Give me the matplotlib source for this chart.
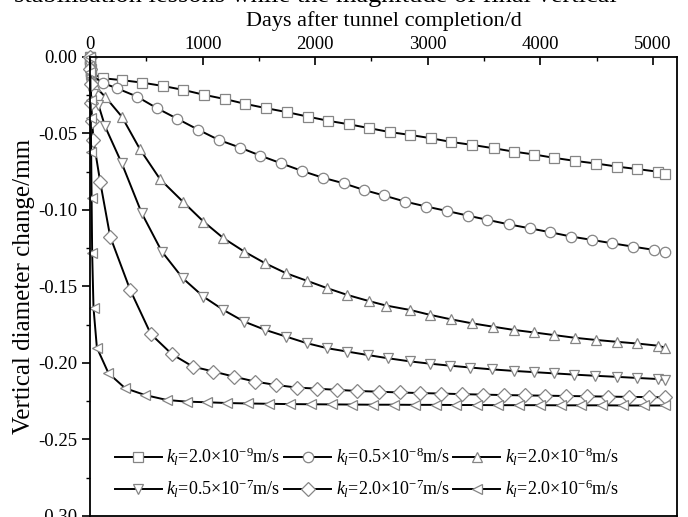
import matplotlib
matplotlib.use("Agg")
import matplotlib.pyplot as plt
from matplotlib.ticker import MultipleLocator, FormatStrFormatter

plt.rcParams['font.family'] = ['Liberation Serif', 'DejaVu Serif']
plt.rcParams['mathtext.fontset'] = 'custom'
plt.rcParams['mathtext.rm'] = 'Liberation Serif'
plt.rcParams['mathtext.it'] = 'Liberation Serif:italic'
plt.rcParams['axes.unicode_minus'] = False

# series (days after completion, diameter change in mm)
days_a = [0, 3, 6, 10, 118, 282, 459, 646, 829, 1013, 1200, 1378, 1562, 1748,
          1932, 2118, 2296, 2482, 2667, 2844, 3031, 3209, 3393, 3585, 3763,
          3947, 4124, 4311, 4498, 4682, 4859, 5042, 5110]
vals_a = [0, -0.004, -0.008, -0.011, -0.0140, -0.0152, -0.0168, -0.0190,
          -0.0216, -0.0248, -0.0276, -0.0307, -0.0335, -0.0361, -0.0390,
          -0.0418, -0.0440, -0.0466, -0.0492, -0.0510, -0.0532, -0.0556,
          -0.0575, -0.0597, -0.0619, -0.0638, -0.0660, -0.0680, -0.0697,
          -0.0717, -0.0733, -0.0750, -0.0765]

days_b = [0, 3, 6, 10, 118, 237, 415, 593, 776, 963, 1141, 1333, 1511, 1695,
          1882, 2065, 2252, 2430, 2607, 2800, 2987, 3171, 3354, 3531, 3718,
          3905, 4089, 4273, 4459, 4637, 4824, 5007, 5110]
vals_b = [0, -0.004, -0.008, -0.012, -0.0172, -0.0205, -0.0259, -0.0335,
          -0.0405, -0.0477, -0.0542, -0.0593, -0.0645, -0.0695, -0.0745,
          -0.0789, -0.0826, -0.0869, -0.0905, -0.0946, -0.0978, -0.1007,
          -0.1037, -0.1065, -0.1094, -0.1120, -0.1146, -0.1174, -0.1196,
          -0.1218, -0.1240, -0.1261, -0.1276]

days_c = [0, 3, 6, 10, 40, 133, 281, 444, 622, 824, 1007, 1185, 1369, 1556,
          1742, 1926, 2109, 2287, 2474, 2630, 2844, 3022, 3206, 3393, 3579,
          3763, 3947, 4124, 4311, 4498, 4682, 4859, 5042, 5110]
vals_c = [0, -0.005, -0.010, -0.014, -0.019, -0.026, -0.039, -0.0605,
          -0.0800, -0.0946, -0.1076, -0.1185, -0.1272, -0.1349, -0.1414,
          -0.1463, -0.1512, -0.1556, -0.1595, -0.1625, -0.1654, -0.1686,
          -0.1715, -0.1741, -0.1763, -0.1784, -0.1801, -0.1818, -0.1836,
          -0.1850, -0.1862, -0.1873, -0.1887, -0.1900]

days_d = [0, 3, 6, 10, 25, 74, 133, 281, 459, 637, 824, 1007, 1185, 1369,
          1556, 1742, 1926, 2109, 2287, 2465, 2643, 2844, 3022, 3200, 3378,
          3570, 3763, 3941, 4119, 4296, 4489, 4682, 4859, 5042, 5110]
vals_d = [0, -0.006, -0.012, -0.018, -0.024, -0.0314, -0.0455, -0.0695,
          -0.1022, -0.1272, -0.1447, -0.1567, -0.1654, -0.1730, -0.1784,
          -0.1828, -0.1871, -0.1904, -0.1926, -0.1948, -0.1969, -0.1990,
          -0.2005, -0.2018, -0.2030, -0.2042, -0.2052, -0.2060, -0.2068,
          -0.2076, -0.2084, -0.2091, -0.2098, -0.2105, -0.2110]

days_e = [0, 3, 6, 10, 18, 29, 89, 178, 356, 540, 727, 913, 1096, 1280, 1467,
          1651, 1837, 2015, 2193, 2370, 2563, 2750, 2935, 3120, 3305, 3490,
          3675, 3860, 4045, 4230, 4415, 4600, 4785, 4970, 5110]
vals_e = [0, -0.008, -0.018, -0.030, -0.042, -0.0542, -0.0815, -0.1174,
          -0.1523, -0.1812, -0.1943, -0.2024, -0.2056, -0.2090, -0.2122,
          -0.2144, -0.2161, -0.2168, -0.2176, -0.2183, -0.2188, -0.2193,
          -0.2197, -0.2200, -0.2204, -0.2207, -0.2210, -0.2212, -0.2214,
          -0.2216, -0.2218, -0.2220, -0.2222, -0.2223, -0.2225]

days_f = [0, 2, 4, 6, 9, 13, 18, 30, 60, 163, 311, 489, 681, 859, 1037, 1220,
          1405, 1590, 1775, 1960, 2145, 2330, 2515, 2700, 2885, 3070, 3255,
          3440, 3625, 3810, 3995, 4180, 4365, 4550, 4735, 4920, 5110]
vals_f = [0, -0.010, -0.028, -0.040, -0.062, -0.092, -0.128, -0.164, -0.190,
          -0.2067, -0.2165, -0.2210, -0.2242, -0.2253, -0.2257, -0.2262,
          -0.2265, -0.2267, -0.2269, -0.2270, -0.2271, -0.2272, -0.2273,
          -0.2273, -0.2274, -0.2274, -0.2275, -0.2275, -0.2276, -0.2276,
          -0.2276, -0.2277, -0.2277, -0.2277, -0.2278, -0.2278, -0.2278]

series = [
    (days_a, vals_a, 's', r'$k_l$=2.0×10$^{-9}$m/s'),
    (days_b, vals_b, 'o', r'$k_l$=0.5×10$^{-8}$m/s'),
    (days_c, vals_c, '^', r'$k_l$=2.0×10$^{-8}$m/s'),
    (days_d, vals_d, 'v', r'$k_l$=0.5×10$^{-7}$m/s'),
    (days_e, vals_e, 'D', r'$k_l$=2.0×10$^{-7}$m/s'),
    (days_f, vals_f, '<', r'$k_l$=2.0×10$^{-6}$m/s'),
]

fig = plt.figure(figsize=(6.88, 5.17), dpi=100)
ax = fig.add_axes([0.131, 0.002, 0.853, 0.888])

for d, v, m, lab in series:
    ms = 7.5
    if m == 's':
        ms = 6.5
    if m == 'D':
        ms = 6.8
    ax.plot(d, v, color='black', lw=1.4, marker=m, ms=ms,
            mfc='white', mec='#858585', mew=0.9, label=lab, clip_on=False)

ax.set_xlim(0, 5215)
ax.set_ylim(-0.30, 0.0)

ax.xaxis.set_label_position('top')
ax.xaxis.tick_top()
ax.set_xlabel('Days after tunnel completion/d', fontsize=16, labelpad=7)
ax.set_ylabel('Vertical diameter change/mm', fontsize=18, labelpad=2)

ax.xaxis.set_major_locator(MultipleLocator(1000))
ax.xaxis.set_minor_locator(MultipleLocator(500))
ax.yaxis.set_major_locator(MultipleLocator(0.05))
ax.yaxis.set_minor_locator(MultipleLocator(0.025))
ax.yaxis.set_major_formatter(FormatStrFormatter('%.2f'))

ax.tick_params(axis='x', which='both', direction='in', labelsize=13.5, pad=3)
ax.tick_params(axis='x', which='major', length=6, width=1.2)
ax.tick_params(axis='x', which='minor', length=3, width=1.0)
ax.tick_params(axis='y', which='both', direction='out', labelsize=13.5)
ax.tick_params(axis='y', which='major', length=6, width=1.2)
ax.tick_params(axis='y', which='minor', length=3, width=1.0)
for s in ax.spines.values():
    s.set_linewidth(1.3)

# legend reads row by row in the reference
handles, labels = ax.get_legend_handles_labels()
order = [0, 3, 1, 4, 2, 5]
ax.legend([handles[i] for i in order], [labels[i] for i in order],
          loc='lower left', bbox_to_anchor=(0.03, 0.02), ncol=3,
          frameon=False, fontsize=13, handlelength=2.6, handletextpad=0.25,
          columnspacing=0.2, labelspacing=0.55, borderaxespad=0.0)

# clipped line of the surrounding page text above the figure
fig.text(0.02, 1.008, 'stabilisation lessons while the magnitude of final vertical',
         fontsize=19, ha='left', va='center')

fig.savefig('out.png', dpi=100)
